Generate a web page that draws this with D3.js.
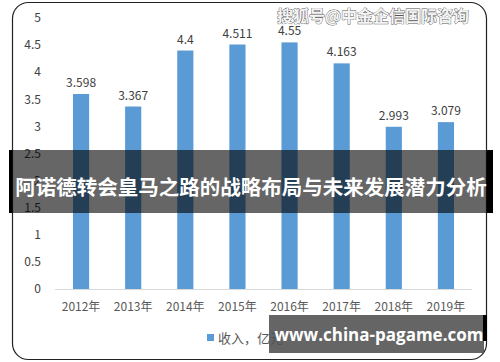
<!DOCTYPE html>
<html>
<head>
<meta charset="utf-8">
<script src="https://cdn.jsdelivr.net/npm/d3@7"></script>
<style>
  body { margin: 0; background: #fff; }
  svg { display: block; font-family: "Noto Sans CJK SC", "Noto Sans", sans-serif; }
</style>
</head>
<body>
<svg id="chart" width="500" height="362"></svg>
<script>
let years = ["2012年", "2013年", "2014年", "2015年", "2016年", "2017年", "2018年", "2019年"];
let values = [3.598, 3.367, 4.4, 4.511, 4.55, 4.163, 2.993, 3.079];
let labels = ["3.598", "3.367", "4.4", "4.511", "4.55", "4.163", "2.993", "3.079"];
let yTicks = [0, 0.5, 1, 1.5, 2, 2.5, 3, 3.5, 4, 4.5, 5];
let seriesName = "收入，亿元";
let title = "阿诺德转会皇马之路的战略布局与未来发展潜力分析";

let svg = d3.select("#chart");

// outer frame
svg.append("rect")
    .attr("x", 12.5).attr("y", 2.5)
    .attr("width", 474).attr("height", 357)
    .attr("rx", 16)
    .attr("fill", "#fff")
    .attr("stroke", "#222")
    .attr("stroke-width", 1.2);

let xScale = d3.scaleBand()
    .domain(years)
    .range([55, 472])
    .paddingInner(0.69)
    .paddingOuter(0.345);

let yScale = d3.scaleLinear()
    .domain([0, 5])
    .range([289, 18]);

// y labels
svg.append("g")
    .selectAll("text")
    .data(yTicks)
    .enter()
    .append("text")
    .attr("x", 41)
    .attr("y", d => yScale(d))
    .attr("dy", "0.35em")
    .attr("text-anchor", "end")
    .style("font-size", "12px")
    .style("fill", "#404040")
    .text(d => d);

// baseline
svg.append("line")
    .attr("x1", 55).attr("x2", 472)
    .attr("y1", yScale(0) + 0.5).attr("y2", yScale(0) + 0.5)
    .style("stroke", "#d9d9d9");

svg.append("g")
    .selectAll("rect")
    .data(values)
    .enter()
    .append("rect")
    .attr("x", (d, i) => xScale(years[i]))
    .attr("y", d => yScale(d))
    .attr("width", xScale.bandwidth())
    .attr("height", d => yScale(0) - yScale(d))
    .attr("fill", "#5b9bd5");

svg.append("g")
    .selectAll("text")
    .data(values)
    .enter()
    .append("text")
    .attr("x", (d, i) => xScale(years[i]) + xScale.bandwidth() / 2)
    .attr("y", d => yScale(d) - 7)
    .attr("text-anchor", "middle")
    .style("font-size", "12px")
    .style("fill", "#404040")
    .text((d, i) => labels[i]);

// x labels
svg.append("g")
    .selectAll("text")
    .data(years)
    .enter()
    .append("text")
    .attr("x", d => xScale(d) + xScale.bandwidth() / 2)
    .attr("y", 307)
    .attr("dy", "0.35em")
    .attr("text-anchor", "middle")
    .style("font-size", "12px")
    .style("fill", "#595959")
    .text(d => d);

// legend
svg.append("rect")
    .attr("x", 207).attr("y", 334)
    .attr("width", 7).attr("height", 7)
    .attr("fill", "#5b9bd5");
svg.append("text")
    .attr("x", 218).attr("y", 338)
    .attr("dy", "0.35em")
    .style("font-size", "13px")
    .style("fill", "#595959")
    .text(seriesName);

// watermark top
svg.append("text")
    .attr("x", 373).attr("y", 16)
    .attr("dy", "0.35em")
    .attr("text-anchor", "middle")
    .style("font-size", "16px")
    .style("font-weight", "bold")
    .style("fill", "#f4f4f4")
    .style("stroke", "#555")
    .style("stroke-width", 0.8)
    .style("paint-order", "stroke")
    .text("搜狐号@中金企信国际咨询");

// title banner
svg.append("rect")
    .attr("x", 9).attr("y", 150)
    .attr("width", 484).attr("height", 63)
    .attr("fill", "rgba(0,0,0,0.6)");
svg.append("rect").attr("x", 9).attr("y", 150).attr("width", 3).attr("height", 63).attr("fill", "#000");
svg.append("rect").attr("x", 487).attr("y", 150).attr("width", 6).attr("height", 63).attr("fill", "#000");
svg.append("text")
    .attr("x", 251).attr("y", 188)
    .attr("dy", "0.35em")
    .attr("text-anchor", "middle")
    .style("font-size", "20.5px")
    .style("font-weight", "bold")
    .style("fill", "#fff")
    .text(title);

// bottom watermark box
svg.append("rect")
    .attr("x", 269).attr("y", 315)
    .attr("width", 215).attr("height", 38)
    .attr("fill", "rgba(80,80,80,0.88)");
svg.append("rect").attr("x", 483).attr("y", 315).attr("width", 4).attr("height", 26).attr("fill", "#000");
svg.append("text")
    .attr("x", 379).attr("y", 335)
    .attr("dy", "0.35em")
    .attr("text-anchor", "middle")
    .style("font-size", "17px")
    .style("font-weight", "bold")
    .style("font-family", "'Open Sans', 'DejaVu Sans', sans-serif")
    .style("fill", "#fff")
    .text("www.china-pagame.com");
</script>
</body>
</html>
